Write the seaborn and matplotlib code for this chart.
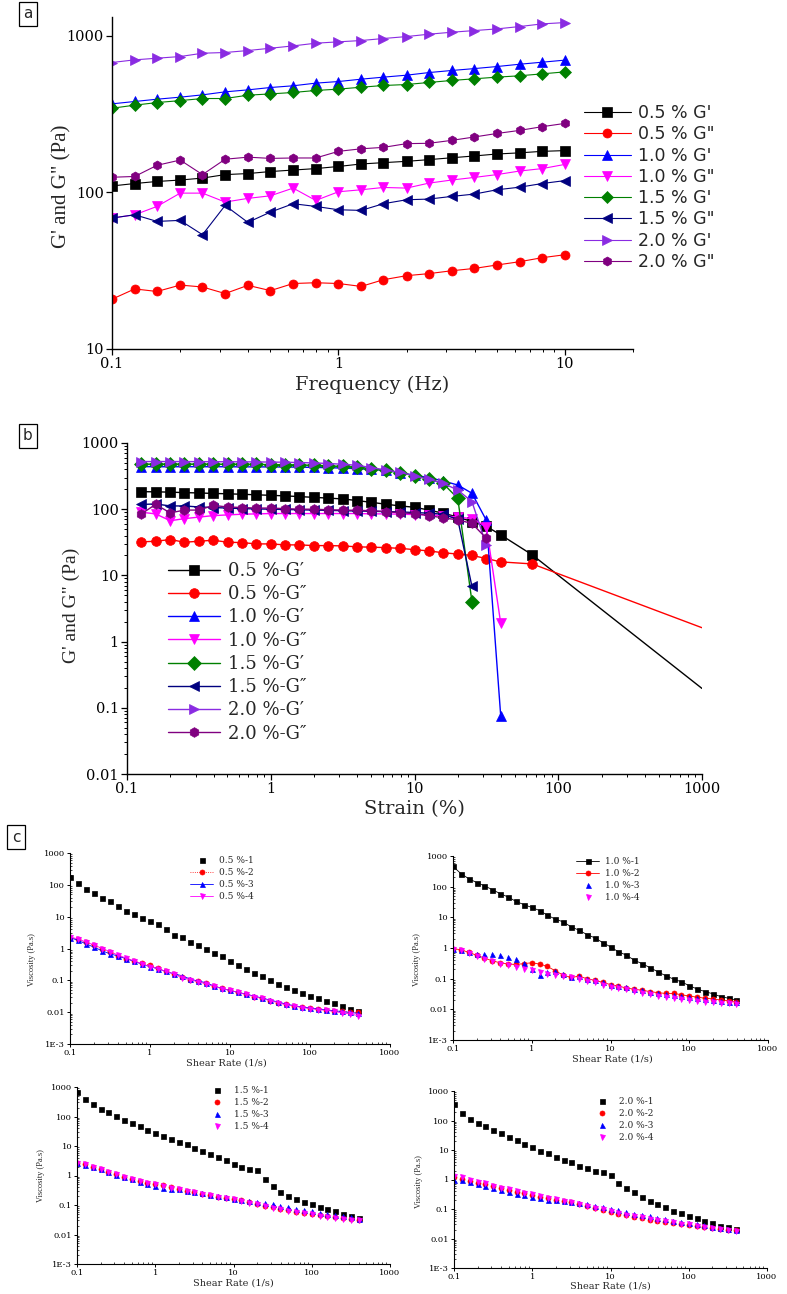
import numpy as np
import pandas as pd
import seaborn as sns
import matplotlib
matplotlib.use("Agg")
import matplotlib.pyplot as plt
from matplotlib.ticker import LogLocator, FixedLocator, FuncFormatter, NullFormatter, NullLocator

# ---------------- panel a: frequency sweep ----------------
freq = [0.1, 0.126, 0.158, 0.2, 0.251, 0.316, 0.398, 0.501, 0.631, 0.794, 1,
        1.26, 1.58, 2, 2.51, 3.16, 3.98, 5.01, 6.31, 7.94, 10]
a_05_g1 = [110, 114, 117.5, 120, 123.5, 130, 132, 136, 139, 142, 146.5, 152, 155, 158, 162, 166.5, 171, 176, 179, 183, 185]
a_05_g2 = [20.8, 24.2, 23.3, 25.6, 24.9, 22.6, 25.5, 23.6, 26.2, 26.5, 26.2, 25.1, 27.7, 29.4, 30.3, 31.6, 32.7, 34.4, 36.1, 38.3, 40]
a_10_g1 = [368, 381, 394, 406, 420, 439, 452, 468, 480, 499, 511, 529, 545, 561, 583, 601, 618, 637, 659, 679, 700]
a_10_g2 = [68.6, 72, 81.4, 99, 99, 86.8, 91.6, 95.2, 106.6, 88.9, 101, 104, 107.6, 106.6, 114.7, 120, 124.7, 130, 137, 142, 151]
a_15_g1 = [345, 361, 375, 386, 398, 398, 418, 426, 435, 448, 457, 470, 482, 489, 504, 519, 532, 545, 556, 572, 589]
a_15_g2 = [68.6, 72, 65.3, 66.3, 53.7, 82.6, 64.4, 74.9, 84.7, 81.4, 77.5, 76.8, 84.7, 89.8, 90.7, 94.3, 97.6, 104, 108, 114, 119]
a_20_g1 = [676, 703, 720, 738, 775, 783, 806, 834, 863, 898, 916, 934, 962, 990, 1025, 1055, 1081, 1108, 1147, 1193, 1216]
a_20_g2 = [125, 126.5, 149, 161, 130, 163, 168, 165, 166, 166, 183, 190, 194, 205, 206, 215, 226, 238, 249, 263, 276]
a_labels = ["0.5 % G'", '0.5 % G"', "1.0 % G'", '1.0 % G"',
            "1.5 % G'", '1.5 % G"', "2.0 % G'", '2.0 % G"']

# ---------------- panel b: strain sweep ----------------
strain = [0.126, 0.158, 0.2, 0.251, 0.316, 0.398, 0.501, 0.631, 0.794, 1, 1.26, 1.58, 2,
          2.51, 3.16, 3.98, 5.01, 6.31, 7.94, 10, 12.6, 15.8, 20, 25.1, 31.6, 39.8]
strain_tail = [66, 1000]
b_05_g1 = [184, 183, 181, 178, 176, 173, 171, 168, 165, 162, 159, 155, 151, 147, 143, 135, 127,
           119, 112, 107, 97, 87, 76, 65, 55, 41, 20.4, 0.196]
b_05_g2 = [32.1, 32.8, 34.8, 31.7, 32.8, 34, 31.7, 31.3, 29.9, 29.9, 28.9, 28.9, 28.2, 28.2, 27.9,
           27, 26.7, 26.3, 25.6, 24.5, 23.4, 22, 21, 20, 18, 16, 14.9, 1.62]
b_10_g1 = [440, 438, 438, 438, 438, 438, 438, 436, 436, 435, 434, 432, 428, 424, 418, 410, 398,
           387, 357, 325, 300, 267, 232, 174, 68, 0.075]
b_10_g2 = [90, 85, 67, 72, 76, 80, 82, 84, 85, 86, 86, 86, 86, 86, 86, 86, 85, 85, 84, 83, 82,
           80, 76, 72, 54.4, 1.89]
b_15_g1 = [480, 480, 480, 480, 480, 478, 478, 476, 475, 472, 470, 466, 460, 452, 442, 430, 410,
           385, 355, 320, 285, 245, 146, 4.0]
b_15_g2 = [118, 120, 112, 112, 108, 106, 104, 102, 101, 100, 99, 98, 97, 96, 95, 94, 93, 92, 91,
           89, 87, 84, 70, 6.8]
b_20_g1 = [525, 525, 525, 524, 523, 522, 521, 520, 518, 515, 512, 507, 500, 490, 478, 460, 425,
           391, 360, 318, 282, 246, 195, 130, 28.8]
b_20_g2 = [85, 118, 88, 97, 97, 114, 108, 106, 104, 104, 102, 100, 100, 98, 97, 96, 95, 92, 88,
           86, 80, 74, 69, 61, 36.3]
b_labels = ["0.5 %-G\u2032", "0.5 %-G\u2033", "1.0 %-G\u2032", "1.0 %-G\u2033",
            "1.5 %-G\u2032", "1.5 %-G\u2033", "2.0 %-G\u2032", "2.0 %-G\u2033"]

# ---------------- panel c: flow curves ----------------
shear = [0.1, 0.126, 0.158, 0.2, 0.251, 0.316, 0.398, 0.501, 0.631, 0.794, 1, 1.26, 1.58, 2,
         2.51, 3.16, 3.98, 5.01, 6.31, 7.94, 10, 12.6, 15.8, 20, 25.1, 31.6, 39.8, 50.1, 63.1,
         79.4, 100, 126, 158, 200, 251, 316, 398]

c05_1 = [173, 112, 76, 55, 38, 30, 21, 15.6, 11.7, 9.4, 7.2, 5.7, 4.1, 2.6, 2.3, 1.56, 1.25, 0.99,
         0.72, 0.57, 0.41, 0.30, 0.23, 0.17, 0.137, 0.103, 0.079, 0.062, 0.050, 0.039, 0.032,
         0.027, 0.023, 0.019, 0.016, 0.0124, 0.011]
c05_2 = [2.2, 1.95, 1.55, 1.25, 0.98, 0.78, 0.6, 0.48, 0.4, 0.34, 0.3, 0.24, 0.19, 0.16, 0.125,
         0.105, 0.092, 0.08, 0.066, 0.056, 0.048, 0.042, 0.036, 0.031, 0.027, 0.023, 0.02, 0.0175,
         0.016, 0.0145, 0.0135, 0.0125, 0.012, 0.011, 0.0105, 0.01, 0.0098]
c05_3 = [2.2, 1.8, 1.4, 1.1, 0.85, 0.68, 0.58, 0.48, 0.4, 0.32, 0.27, 0.23, 0.19, 0.16, 0.14, 0.11,
         0.095, 0.085, 0.066, 0.056, 0.048, 0.042, 0.037, 0.032, 0.028, 0.024, 0.021, 0.018, 0.016,
         0.0145, 0.0135, 0.0125, 0.012, 0.011, 0.0105, 0.0098, 0.0092]
c05_4 = [2.3, 2.0, 1.6, 1.3, 1.0, 0.8, 0.62, 0.5, 0.41, 0.33, 0.27, 0.23, 0.19, 0.16, 0.12, 0.105,
         0.09, 0.078, 0.065, 0.055, 0.048, 0.042, 0.036, 0.031, 0.027, 0.023, 0.02, 0.017, 0.0155,
         0.014, 0.013, 0.012, 0.0115, 0.0105, 0.0095, 0.0088, 0.0078]

c10_1 = [461, 266, 183, 136, 106, 80, 59, 46, 33, 26, 21, 16.6, 11.7, 8.7, 7.1, 4.9, 3.8, 2.75,
         2.15, 1.51, 1.09, 0.75, 0.59, 0.40, 0.31, 0.23, 0.168, 0.125, 0.097, 0.079, 0.059, 0.046,
         0.038, 0.032, 0.026, 0.023, 0.020]
c10_2 = [0.95, 0.88, 0.72, 0.58, 0.47, 0.38, 0.33, 0.3, 0.29, 0.31, 0.33, 0.3, 0.25, 0.18, 0.13,
         0.11, 0.12, 0.1, 0.088, 0.076, 0.064, 0.057, 0.05, 0.045, 0.042, 0.038, 0.035, 0.033,
         0.033, 0.03, 0.027, 0.025, 0.023, 0.022, 0.02, 0.019, 0.018]
c10_3 = [0.95, 0.85, 0.72, 0.65, 0.63, 0.62, 0.6, 0.52, 0.44, 0.33, 0.2, 0.13, 0.16, 0.18, 0.14,
         0.11, 0.12, 0.1, 0.09, 0.075, 0.062, 0.058, 0.052, 0.045, 0.042, 0.038, 0.035, 0.032,
         0.03, 0.028, 0.026, 0.024, 0.022, 0.02, 0.019, 0.018, 0.017]
c10_4 = [0.95, 0.85, 0.7, 0.55, 0.45, 0.37, 0.3, 0.27, 0.24, 0.21, 0.19, 0.16, 0.14, 0.13, 0.12,
         0.11, 0.095, 0.085, 0.075, 0.062, 0.055, 0.05, 0.045, 0.04, 0.035, 0.032, 0.028, 0.026,
         0.024, 0.022, 0.02, 0.019, 0.018, 0.017, 0.016, 0.016, 0.015]

c15_1 = [678, 403, 273, 185, 143, 102, 79, 61, 47, 36, 28.5, 22.6, 17.4, 14.2, 11.5, 8.6, 6.8,
         5.3, 4.3, 3.3, 2.55, 1.97, 1.6, 1.52, 0.75, 0.44, 0.28, 0.2, 0.155, 0.129, 0.107, 0.087,
         0.073, 0.062, 0.049, 0.043, 0.037]
c15_2 = [2.7, 2.4, 2.0, 1.7, 1.35, 1.1, 0.92, 0.78, 0.66, 0.57, 0.52, 0.46, 0.4, 0.35, 0.3, 0.27,
         0.24, 0.21, 0.19, 0.17, 0.16, 0.145, 0.125, 0.11, 0.095, 0.085, 0.075, 0.068, 0.06, 0.054,
         0.05, 0.046, 0.042, 0.038, 0.035, 0.033, 0.031]
c15_3 = [2.6, 2.35, 2.0, 1.65, 1.3, 1.08, 0.9, 0.76, 0.62, 0.52, 0.45, 0.38, 0.36, 0.34, 0.3,
         0.27, 0.25, 0.22, 0.2, 0.18, 0.165, 0.15, 0.14, 0.125, 0.115, 0.105, 0.095, 0.085, 0.075,
         0.068, 0.062, 0.055, 0.05, 0.046, 0.042, 0.038, 0.034]
c15_4 = [2.7, 2.4, 2.0, 1.7, 1.35, 1.1, 0.92, 0.78, 0.66, 0.56, 0.5, 0.44, 0.38, 0.34, 0.3, 0.27,
         0.24, 0.21, 0.19, 0.17, 0.155, 0.14, 0.12, 0.105, 0.092, 0.082, 0.072, 0.065, 0.058,
         0.052, 0.048, 0.044, 0.04, 0.037, 0.034, 0.032, 0.03]

c20_1 = [371, 184, 115, 84, 63, 46, 37, 27, 21, 16.2, 12.5, 9.6, 7.8, 6.0, 4.6, 3.8, 2.9, 2.4,
         2.0, 1.8, 1.44, 0.75, 0.51, 0.37, 0.25, 0.19, 0.149, 0.115, 0.088, 0.072, 0.060, 0.050,
         0.040, 0.033, 0.027, 0.024, 0.021]
c20_2 = [1.2, 1.05, 0.9, 0.78, 0.68, 0.58, 0.5, 0.44, 0.38, 0.34, 0.3, 0.26, 0.23, 0.2, 0.19,
         0.17, 0.145, 0.125, 0.105, 0.092, 0.08, 0.07, 0.062, 0.055, 0.05, 0.044, 0.04, 0.037,
         0.034, 0.031, 0.028, 0.026, 0.024, 0.022, 0.021, 0.02, 0.019]
c20_3 = [1.0, 0.95, 0.82, 0.72, 0.6, 0.52, 0.44, 0.38, 0.32, 0.29, 0.26, 0.23, 0.2, 0.195, 0.19,
         0.175, 0.16, 0.145, 0.13, 0.115, 0.1, 0.09, 0.08, 0.07, 0.062, 0.056, 0.05, 0.045, 0.04,
         0.036, 0.033, 0.03, 0.028, 0.025, 0.023, 0.021, 0.02]
c20_4 = [1.3, 1.2, 1.0, 0.85, 0.75, 0.62, 0.52, 0.46, 0.4, 0.35, 0.32, 0.28, 0.24, 0.21, 0.19,
         0.17, 0.15, 0.13, 0.11, 0.098, 0.085, 0.075, 0.065, 0.058, 0.052, 0.046, 0.042, 0.038,
         0.035, 0.032, 0.03, 0.027, 0.025, 0.023, 0.021, 0.02, 0.018]

# tick values shown on the axes
a_xticks = [0.1, 1, 10]
a_yticks = [10, 100, 1000]
b_xticks = [0.1, 1, 10, 100, 1000]
b_yticks = [0.01, 0.1, 1, 10, 100, 1000]
c_xticks = [0.1, 1, 10, 100, 1000]
c_yticks = [1e-3, 0.01, 0.1, 1, 10, 100, 1000]

# ---------------- style ----------------
sns.set_style("ticks")
plt.rcParams["font.family"] = ["DejaVu Sans"]
plt.rcParams["axes.edgecolor"] = "black"
plt.rcParams["xtick.color"] = "black"
plt.rcParams["ytick.color"] = "black"

SERIF = ["DejaVu Serif"]
SERIF_V = ["Liberation Serif", "DejaVu Serif"]

W, H = 787, 1294
colors = ["#000000", "#ff0000", "#0000ff", "#ff00ff", "#008000", "#00007f", "#8a2be2", "#800080"]
markers = ["s", "o", "^", "v", "D", "<", ">", "h"]


def rect(l, t, r, b):
    return [l / W, 1 - b / H, (r - l) / W, (b - t) / H]


def fmt(v, pos):
    if abs(v - 1e-3) < 1e-9:
        return "1E-3"
    return f"{v:g}"


def draw(ax, x, y, color, marker, label, ms, lw=0.8, ls="-", **kw):
    sns.lineplot(x=x, y=y, ax=ax, color=color, marker=marker, markersize=ms,
                 markeredgecolor=color, markeredgewidth=0.5, linewidth=lw,
                 linestyle=ls, label=label, estimator=None, sort=False, **kw)


def minor_ticks(major):
    out = []
    for m in major[:-1]:
        out += [m * s for s in range(2, 10)]
    return out


def style_axes(ax, xt, yt, xlim, ylim, tick_size, ylog_minor=False):
    ax.set_xscale("log")
    ax.set_yscale("log")
    ax.set_xlim(*xlim)
    ax.set_ylim(*ylim)
    for s in ["top", "right"]:
        ax.spines[s].set_visible(False)
    for s in ["left", "bottom"]:
        ax.spines[s].set_linewidth(1.0)
    ax.xaxis.set_major_locator(FixedLocator(xt))
    ax.yaxis.set_major_locator(FixedLocator(yt))
    ax.xaxis.set_major_formatter(FuncFormatter(fmt))
    ax.yaxis.set_major_formatter(FuncFormatter(fmt))
    xm = [v for v in minor_ticks(xt + [xt[-1] * 10]) if xlim[0] < v <= xlim[1]]
    ax.xaxis.set_minor_locator(FixedLocator(xm))
    ax.xaxis.set_minor_formatter(NullFormatter())
    if ylog_minor:
        ax.yaxis.set_minor_locator(FixedLocator(minor_ticks(yt)))
    else:
        ax.yaxis.set_minor_locator(NullLocator())
    ax.yaxis.set_minor_formatter(NullFormatter())
    ax.tick_params(which="major", direction="out", length=4, width=0.9, pad=2)
    ax.tick_params(which="minor", direction="out", length=2.2, width=0.7)
    for t in ax.get_xticklabels() + ax.get_yticklabels():
        t.set_fontfamily(SERIF)
        t.set_fontsize(tick_size)


fig = plt.figure(figsize=(W / 100, H / 100), dpi=100)

# ---------------- panel a ----------------
ax_a = fig.add_axes(rect(112, 17, 633, 349))
a_series = [a_05_g1, a_05_g2, a_10_g1, a_10_g2, a_15_g1, a_15_g2, a_20_g1, a_20_g2]
for vals, c, m, lab in zip(a_series, colors, markers, a_labels):
    draw(ax_a, freq, vals, c, m, lab, ms=6.5, lw=0.8)
style_axes(ax_a, a_xticks, a_yticks, (0.1, 20), (10, 1320), 10.5)
ax_a.set_xlabel("Frequency (Hz)", fontfamily=SERIF, fontsize=14)
ax_a.set_ylabel("G' and G\" (Pa)", fontfamily=SERIF_V, fontsize=15)
ax_a.xaxis.set_label_coords(0.5, -0.08)
ax_a.yaxis.set_label_coords(-0.077, 0.49)
h, l = ax_a.get_legend_handles_labels()
ax_a.legend(h, l, loc="upper left", bbox_to_anchor=(584 / W, 1 - 104 / H),
            bbox_transform=fig.transFigure, frameon=False, fontsize=12.5,
            handlelength=2.7, handletextpad=0.4, labelspacing=0.19,
            borderpad=0, borderaxespad=0, numpoints=1)

# ---------------- panel b ----------------
ax_b = fig.add_axes(rect(127, 443, 702, 774))
b_series = [
    (strain + strain_tail, b_05_g1),
    (strain + strain_tail, b_05_g2),
    (strain, b_10_g1),
    (strain, b_10_g2),
    (strain[:24], b_15_g1),
    (strain[:24], b_15_g2),
    (strain[:25], b_20_g1),
    (strain[:25], b_20_g2),
]
for (xs, vals), c, m, lab in zip(b_series, colors, markers, b_labels):
    kw = {}
    if len(xs) > len(strain):
        kw["markevery"] = list(range(len(xs) - 1))
    draw(ax_b, xs, vals, c, m, lab, ms=7, lw=1.0, **kw)
style_axes(ax_b, b_xticks, b_yticks, (0.1, 1000), (0.01, 1000), 10.5, ylog_minor=True)
ax_b.set_xlabel("Strain (%)", fontfamily=SERIF, fontsize=14)
ax_b.set_ylabel("G' and G\" (Pa)", fontfamily=SERIF_V, fontsize=14)
ax_b.xaxis.set_label_coords(0.5, -0.08)
ax_b.yaxis.set_label_coords(-0.082, 0.51)
h, l = ax_b.get_legend_handles_labels()
ax_b.legend(h, l, loc="upper left", bbox_to_anchor=(168 / W, 1 - 562 / H),
            bbox_transform=fig.transFigure, frameon=False,
            prop={"family": SERIF, "size": 13},
            handlelength=2.9, handletextpad=0.4, labelspacing=0.29,
            borderpad=0, borderaxespad=0, numpoints=1)

# ---------------- panel c ----------------
c_panels = [
    ("0.5", [c05_1, c05_2, c05_3, c05_4], rect(70, 853, 390, 1044),
     [("none", 0), (":", 0.6), ("-", 0.6), ("-", 0.6)],
     (190, 856), (0.49, -0.075), (-0.106, 0.44)),
    ("1.0", [c10_1, c10_2, c10_3, c10_4], rect(453, 856, 768, 1040),
     [("-", 0.6), ("-", 0.6), ("none", 0), ("none", 0)],
     (576, 857), (0.505, -0.08), (-0.102, 0.435)),
    ("1.5", [c15_1, c15_2, c15_3, c15_4], rect(77, 1087, 390, 1264),
     [("none", 0)] * 4,
     (205, 1086), (0.5, -0.082), (-0.102, 0.5)),
    ("2.0", [c20_1, c20_2, c20_3, c20_4], rect(454, 1091, 767, 1268),
     [("none", 0)] * 4,
     (590, 1097), (0.5, -0.076), (-0.099, 0.49)),
]
c_colors = ["#000000", "#ff0000", "#0000ff", "#ff00ff"]
c_markers = ["s", "o", "^", "v"]
for conc, series, pos, lines, leg_xy, xl_xy, yl_xy in c_panels:
    ax = fig.add_axes(pos)
    for i, vals in enumerate(series):
        ls, lw = lines[i]
        draw(ax, shear, vals, c_colors[i], c_markers[i], f"{conc} %-{i + 1}",
             ms=3.6, lw=max(lw, 0.1), ls=ls)
    style_axes(ax, c_xticks, c_yticks, (0.1, 1000), (1e-3, 1000), 6.0, ylog_minor=True)
    ax.tick_params(which="major", direction="out", length=2.5, width=0.7, pad=1)
    ax.tick_params(which="minor", direction="in", length=1.6, width=0.5)
    for s in ["left", "bottom"]:
        ax.spines[s].set_linewidth(0.8)
    ax.set_xlabel("Shear Rate (1/s)", fontfamily=SERIF, fontsize=7.0)
    ax.set_ylabel("Viscosity (Pa.s)", fontfamily=SERIF_V, fontsize=6)
    ax.xaxis.set_label_coords(*xl_xy)
    ax.yaxis.set_label_coords(*yl_xy)
    h, l = ax.get_legend_handles_labels()
    ax.legend(h, l, loc="upper left", bbox_to_anchor=(leg_xy[0] / W, 1 - leg_xy[1] / H),
              bbox_transform=fig.transFigure, frameon=False,
              prop={"family": SERIF, "size": 6.5},
              handlelength=2.6, handletextpad=0.6, labelspacing=0.34,
              borderpad=0, borderaxespad=0, numpoints=1)

# ---------------- panel tags ----------------
for tag, x, y in [("a", 28, 14), ("b", 28, 436), ("c", 16, 837)]:
    fig.text(x / W, 1 - y / H, tag, ha="center", va="center", fontsize=11,
             bbox=dict(boxstyle="square,pad=0.3", fc="white", ec="black", lw=0.9))

fig.savefig("out.png", dpi=100)
